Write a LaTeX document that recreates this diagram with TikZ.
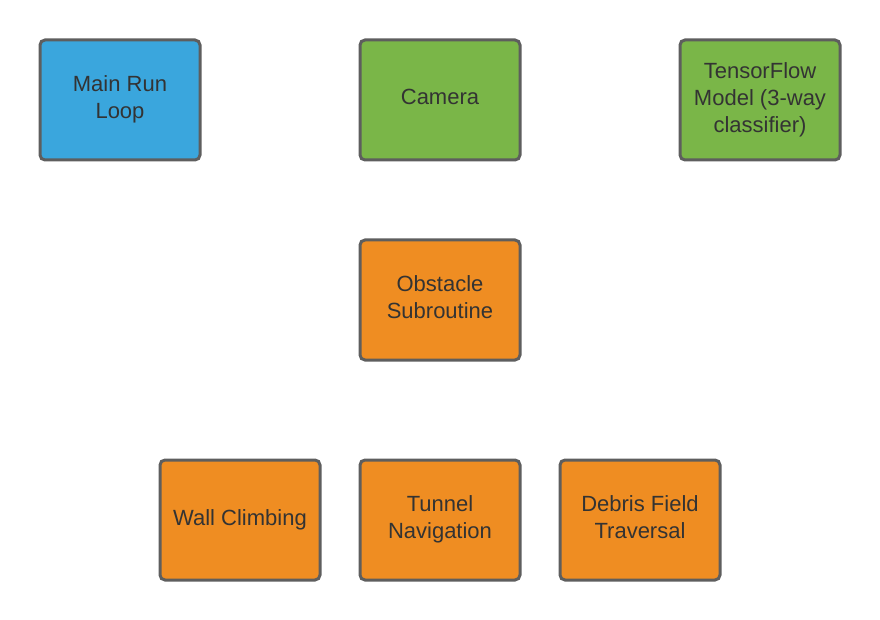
\documentclass[tikz,border=0pt]{standalone}
\usepackage{fontspec}
\setmainfont{Liberation Sans}
\definecolor{loopblue}{HTML}{3AA6DD}
\definecolor{inputgreen}{HTML}{7AB648}
\definecolor{taskorange}{HTML}{EF8D22}
\definecolor{boxline}{HTML}{5E5E5E}
\definecolor{boxtext}{HTML}{333333}
\tikzset{
  box/.style = {rectangle, rounded corners=5pt, draw=boxline, line width=3pt,
                minimum width=160pt, minimum height=120pt, inner sep=0pt,
                text depth=5.5pt,
                align=center, text=boxtext, font=\fontsize{22}{27}\selectfont}
}

\begin{document}
\begin{tikzpicture}[x=1pt,y=-1pt]
	\useasboundingbox (0,0) rectangle (880,620);
	
	% Top row
	\node[box, fill=loopblue] (loop) at (120,100) {Main Run\\Loop};
	\node[box, fill=inputgreen] (camera) at (440,100) {Camera};
	\node[box, fill=inputgreen] (model) at (760,100) {TensorFlow\\Model (3-way\\classifier)};
	
	% Obstacle
	\node[box, fill=taskorange] (obstacle) at (440,300) {Obstacle\\Subroutine};
	
	% Bottom row
	\node[box, fill=taskorange] (wall) at (240,520) {Wall Climbing};
	\node[box, fill=taskorange] (tunnel) at (440,520) {Tunnel\\Navigation};
	\node[box, fill=taskorange] (debris) at (640,520) {Debris Field\\Traversal};
	
\end{tikzpicture}
\end{document}
